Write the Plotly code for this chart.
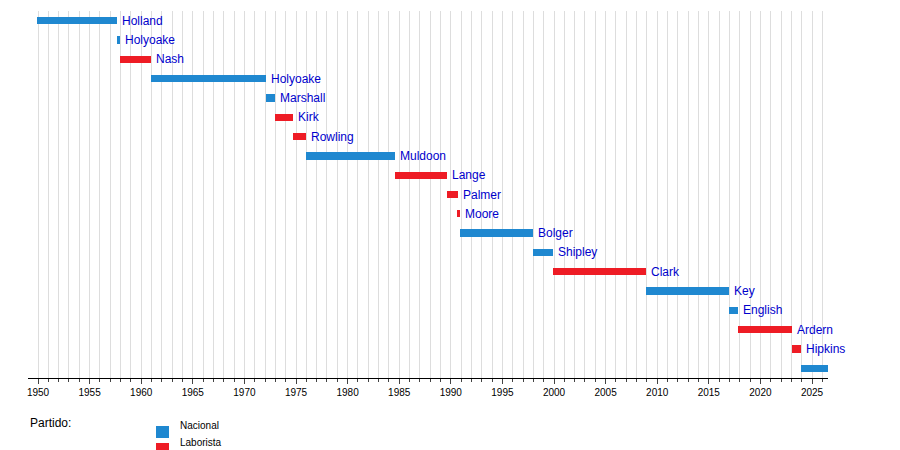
import plotly.graph_objects as go

names = ["Holland","Holyoake","Nash","Holyoake","Marshall","Kirk","Rowling","Muldoon","Lange","Palmer","Moore","Bolger","Shipley","Clark","Key","English","Ardern","Hipkins","Luxon"]
starts = [1949.95,1957.63,1957.95,1960.95,1972.1,1972.92,1974.67,1975.95,1984.62,1989.6,1990.68,1990.85,1997.93,1999.93,2008.88,2016.95,2017.82,2023.07,2023.9]
ends = [1957.63,1957.95,1960.95,1972.1,1972.92,1974.67,1975.95,1984.62,1989.6,1990.68,1990.85,1997.93,1999.93,2008.88,2016.95,2017.82,2023.07,2023.9,2026.6]
parties = ["N","N","L","N","N","L","L","N","L","L","L","N","N","L","N","N","L","L","N"]
party_names = {"N":"Nacional","L":"Laborista"}
colors = {"N":"#1f88d0","L":"#ee1c25"}

rows = list(range(len(names)))
fig = go.Figure()
fig.add_trace(go.Bar(y=rows, x=[e-s for s,e in zip(starts,ends)], base=starts, orientation="h",
                     width=0.38, marker=dict(color=[colors[p] for p in parties], line=dict(width=0)),
                     hoverinfo="skip"))
for r, e, n in zip(rows, ends, names):
    fig.add_annotation(x=e, y=r, xref="x", yref="y", text=n, showarrow=False, xanchor="left",
                       xshift=3, font=dict(color="#0000cc", size=12, family="Liberation Sans"))
fig.update_layout(width=900, height=450, margin=dict(l=20, r=80, t=3, b=80, autoexpand=False),
                  plot_bgcolor="white", paper_bgcolor="white", showlegend=False,
                  font=dict(family="Liberation Sans", size=11, color="black"), bargap=0)
fig.update_xaxes(range=[1949.03, 2026.55], dtick=5, tick0=1950, ticks="outside", ticklen=5,
                 showgrid=True, gridcolor="#dddddd", showline=True, linecolor="black", automargin=False,
                 tickfont=dict(size=10), zeroline=False,
                 minor=dict(dtick=1, tick0=1950, ticks="outside", ticklen=3, showgrid=True, gridcolor="#dddddd"))
fig.update_yaxes(range=[18.5, -0.5], showticklabels=False, showgrid=False, zeroline=False, automargin=False)

def py(p): return (370 - p) / 367
def px(p): return (p - 20) / 800
fig.add_annotation(x=px(20), y=py(424), xref="paper", yref="paper", text="Partido:", showarrow=False,
                   xanchor="left", font=dict(size=12))
for i, p in enumerate(["N", "L"]):
    yc = 424 + i * 17
    fig.add_shape(type="rect", xref="paper", yref="paper", x0=px(148), x1=px(161), y0=py(yc-6), y1=py(yc+6),
                  fillcolor=colors[p], line=dict(width=0))
    fig.add_annotation(x=px(170), y=py(yc+1), xref="paper", yref="paper", text=party_names[p], showarrow=False,
                       xanchor="left", font=dict(size=10))
fig.write_html("out.html")
